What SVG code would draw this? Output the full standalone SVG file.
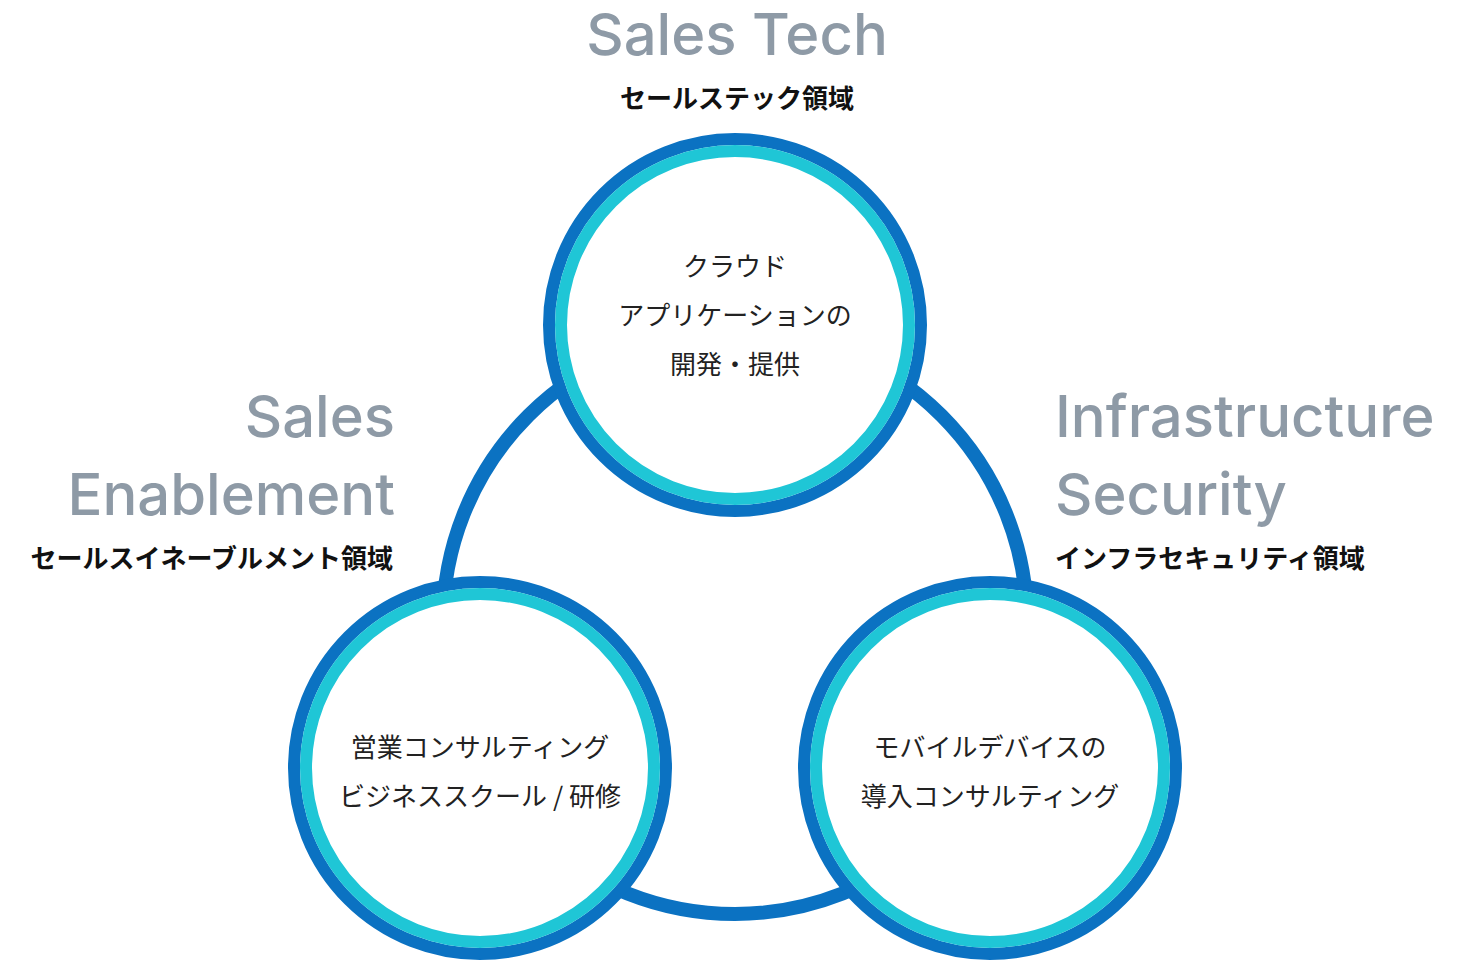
<svg xmlns="http://www.w3.org/2000/svg" width="1460" height="961" viewBox="0 0 1460 961">
<style>
.ring{fill:#fff;stroke:#0b72c2;stroke-width:12}
.inner{fill:#fff;stroke:#1fc6d6;stroke-width:12}
.en{font-family:Inter,"Noto Sans",sans-serif;font-size:58px;fill:#8e9aa6;font-weight:500}
.jpb{font-family:"Noto Sans CJK JP",sans-serif;font-size:26px;font-weight:700;fill:#111}
.jp{font-family:"Noto Sans CJK JP",sans-serif;font-size:26px;fill:#222}
</style>
<rect width="1460" height="961" fill="#fff"/>
<g id="connectors">
<circle cx="735" cy="622" r="292" fill="none" stroke="#0b72c2" stroke-width="14"/>
</g>
<g id="node-top">
<circle class="ring" cx="735" cy="325" r="186"/>
<circle class="inner" cx="735" cy="325" r="174"/>
<text class="jp" x="735" y="276" text-anchor="middle">クラウド</text>
<text class="jp" x="735" y="325" text-anchor="middle">アプリケーションの</text>
<text class="jp" x="735" y="374" text-anchor="middle">開発・提供</text>
</g>
<g id="node-left">
<circle class="ring" cx="480" cy="768" r="186"/>
<circle class="inner" cx="480" cy="768" r="174"/>
<text class="jp" x="480" y="757" text-anchor="middle">営業コンサルティング</text>
<text class="jp" x="480" y="806" text-anchor="middle">ビジネススクール / 研修</text>
</g>
<g id="node-right">
<circle class="ring" cx="990" cy="768" r="186"/>
<circle class="inner" cx="990" cy="768" r="174"/>
<text class="jp" x="990" y="757" text-anchor="middle">モバイルデバイスの</text>
<text class="jp" x="990" y="806" text-anchor="middle">導入コンサルティング</text>
</g>
<g id="label-top">
<text class="en" x="737" y="55" text-anchor="middle">Sales Tech</text>
<text class="jpb" x="737" y="108" text-anchor="middle">セールステック領域</text>
</g>
<g id="label-left">
<text class="en" x="395" y="437" text-anchor="end">Sales</text>
<text class="en" x="395" y="515" text-anchor="end">Enablement</text>
<text class="jpb" x="393" y="568" text-anchor="end">セールスイネーブルメント領域</text>
</g>
<g id="label-right">
<text class="en" x="1055" y="437">Infrastructure</text>
<text class="en" x="1055" y="515">Security</text>
<text class="jpb" x="1055" y="568">インフラセキュリティ領域</text>
</g>
</svg>
